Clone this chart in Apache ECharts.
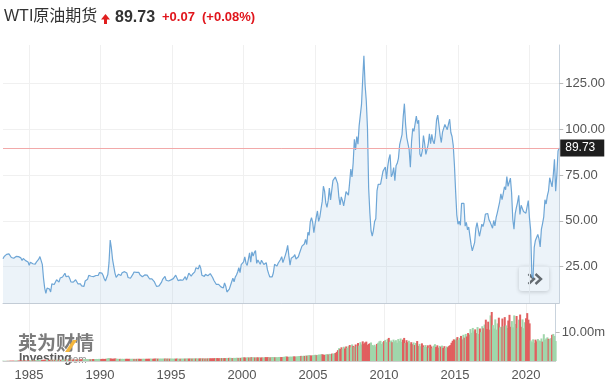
<!DOCTYPE html>
<html><head><meta charset="utf-8">
<script src="https://cdn.jsdelivr.net/npm/echarts@6/dist/echarts.min.js"></script>
<style>html,body{margin:0;padding:0;background:#fff}#c{width:608px;height:385px}</style>
</head><body><div id="c"></div>
<script>
// Monthly closes, first month = March 1983
const START_YEAR = 1983, START_MONTH = 3;
const prices1980s = [
  29.3, 30.6, 30.9, 31.7, 31.6, 32.0, 31.2, 30.0, 29.8, 29.6,
  29.8, 30.6, 30.8, 30.5, 30.3, 29.8, 28.4, 29.5, 29.4, 28.3, 28.6, 27.6,
  25.7, 27.4, 28.3, 26.6, 27.3, 26.4, 27.5, 27.9, 29.1, 30.5, 30.8, 26.3,
  18.8, 13.3, 10.4, 13.3, 14.3, 12.8, 11.2, 15.6, 14.9, 15.3, 15.0, 17.9,
  18.7, 16.6, 18.8, 18.7, 19.4, 20.3, 21.4, 19.5, 19.6, 19.9, 18.6, 16.7,
  17.0, 16.6, 16.4, 17.9, 17.4, 15.6, 16.1, 15.6, 14.5, 13.6, 14.3, 17.2,
  18.0, 18.1, 20.3, 20.8, 19.8, 20.3, 19.6, 19.2, 20.2, 20.2, 20.3, 21.8
];
const prices1990s = [
  22.7, 21.5, 20.3, 18.4, 17.2, 17.1, 20.7, 27.2, 39.5, 35.2, 28.8, 28.4,
  21.5, 19.2, 19.6, 20.9, 21.2, 20.2, 21.7, 22.1, 22.3, 23.2, 21.5, 19.1,
  18.9, 18.7, 19.1, 20.8, 22.1, 21.6, 21.9, 21.1, 21.9, 20.6, 19.9, 19.5,
  20.3, 20.5, 20.6, 20.4, 19.9, 18.4, 17.6, 18.4, 18.6, 16.9, 15.4, 14.2,
  15.2, 14.5, 14.7, 16.4, 18.1, 19.1, 19.7, 17.6, 18.4, 17.2, 18.1, 17.8,
  18.4, 18.5, 19.2, 20.4, 18.9, 17.4, 17.6, 17.8, 17.5, 17.6, 18.2, 19.6,
  17.7, 19.5, 21.5, 21.2, 19.8, 20.9, 20.4, 22.2, 24.4, 23.4, 23.8, 25.9,
  24.2, 20.3, 20.4, 19.7, 20.8, 19.8, 20.1, 19.6, 21.2, 21.0, 19.1, 17.6,
  17.2, 15.4, 15.6, 15.4, 15.2, 14.0, 14.2, 13.4, 16.1, 14.4, 11.2, 12.1,
  12.8, 12.3, 16.8, 18.7, 16.8, 19.3, 20.5, 22.1, 24.5, 21.8, 26.1, 25.6
];
const prices2000s = [
  27.6, 30.4, 26.9, 25.7, 29.0, 32.5, 27.4, 33.1, 30.8, 32.7, 33.8, 26.8,
  28.7, 27.4, 26.3, 28.5, 28.4, 26.2, 26.4, 27.2, 23.4, 21.2, 19.4, 19.8,
  19.5, 21.7, 26.3, 27.3, 25.3, 26.9, 27.0, 28.9, 30.5, 27.2, 26.9, 31.2,
  33.5, 36.6, 31.0, 25.8, 29.6, 30.2, 30.5, 31.6, 29.2, 29.1, 30.4, 32.5,
  33.1, 36.2, 35.8, 37.4, 39.9, 37.1, 43.8, 42.1, 49.6, 51.8, 49.1, 43.5,
  48.2, 52.0, 55.4, 49.7, 52.0, 56.5, 60.6, 68.9, 66.2, 59.8, 57.3, 61.0,
  67.9, 61.4, 66.6, 71.9, 71.3, 73.9, 74.4, 70.3, 62.9, 58.7, 63.1, 61.1,
  58.1, 61.8, 65.9, 65.7, 64.0, 70.7, 78.2, 74.0, 81.7, 94.5, 88.7, 96.0,
  91.8, 101.8, 101.6, 113.5, 127.4, 140.0, 124.1, 115.5, 100.6, 67.8, 54.4, 44.6,
  41.7, 44.8, 49.7, 51.1, 66.3, 69.9, 69.5, 70.0, 70.6, 77.0, 77.3, 79.4
];
const prices2010s = [
  72.9, 79.7, 83.8, 86.2, 74.0, 75.6, 79.0, 71.9, 80.0, 81.4, 84.1, 91.4,
  92.2, 97.0, 106.7, 113.9, 102.7, 95.4, 95.7, 88.8, 79.2, 93.2, 100.4, 98.8,
  98.5, 107.1, 103.0, 104.9, 86.5, 85.0, 88.1, 96.5, 92.2, 86.2, 88.9, 91.8,
  97.5, 92.1, 97.2, 93.5, 92.0, 96.6, 105.0, 107.7, 102.3, 96.4, 92.7, 98.4,
  97.5, 102.6, 101.6, 99.7, 102.7, 105.4, 98.2, 96.0, 91.2, 80.5, 66.2, 53.3,
  48.2, 49.8, 47.6, 59.6, 60.3, 59.5, 47.1, 49.2, 45.1, 46.6, 41.7, 37.0,
  33.6, 33.8, 38.3, 45.9, 49.1, 48.3, 41.6, 44.7, 48.2, 46.9, 49.4, 53.7,
  52.8, 54.0, 50.6, 49.3, 48.3, 46.0, 50.2, 47.2, 51.7, 54.4, 57.4, 60.4,
  64.7, 61.6, 64.9, 68.6, 67.0, 74.2, 68.8, 69.8, 73.3, 65.3, 50.9, 45.4,
  53.8, 57.2, 60.1, 63.9, 53.5, 58.5, 58.6, 55.1, 54.1, 54.2, 55.2, 61.1
];
const prices2020s = [
  51.6, 44.8, 20.5, 18.8, 35.5, 39.3, 40.3, 42.6, 40.2, 35.8, 45.3, 48.5,
  52.2, 61.5, 59.2, 63.6, 66.3, 73.5, 74.0, 68.5, 75.0, 83.6, 66.2, 75.2,
  88.15, 89.73
];
// Monthly volume, millions of contracts
const volumes1980s = [
  0.05, 0.06, 0.07, 0.08, 0.08, 0.09, 0.1, 0.1, 0.11, 0.12,
  0.13, 0.14, 0.15, 0.16, 0.17, 0.16, 0.18, 0.19, 0.18, 0.2, 0.21, 0.2,
  0.22, 0.24, 0.25, 0.24, 0.26, 0.25, 0.27, 0.28, 0.27, 0.3, 0.32, 0.34,
  0.4, 0.45, 0.5, 0.42, 0.4, 0.38, 0.45, 0.48, 0.42, 0.44, 0.4, 0.42,
  0.44, 0.46, 0.42, 0.45, 0.47, 0.45, 0.5, 0.52, 0.48, 0.5, 0.52, 0.5,
  0.52, 0.54, 0.5, 0.56, 0.52, 0.55, 0.58, 0.54, 0.6, 0.62, 0.58, 0.64,
  0.62, 0.66, 0.64, 0.7, 0.62, 0.66, 0.68, 0.64, 0.7, 0.72, 0.68, 0.75
];
const volumes1990s = [
  0.72, 0.7, 0.76, 0.74, 0.72, 0.78, 0.82, 1.05, 1.0, 0.9, 0.8, 0.78,
  0.85, 0.9, 0.76, 0.78, 0.72, 0.76, 0.74, 0.78, 0.72, 0.77, 0.75, 0.78,
  0.74, 0.77, 0.72, 0.78, 0.74, 0.76, 0.72, 0.77, 0.75, 0.78, 0.74, 0.76,
  0.76, 0.8, 0.74, 0.78, 0.76, 0.8, 0.78, 0.82, 0.77, 0.8, 0.84, 0.86,
  0.84, 0.82, 0.8, 0.86, 0.82, 0.85, 0.83, 0.87, 0.82, 0.86, 0.84, 0.82,
  0.82, 0.85, 0.8, 0.86, 0.82, 0.84, 0.8, 0.83, 0.81, 0.84, 0.82, 0.85,
  0.84, 0.88, 0.9, 0.86, 0.84, 0.88, 0.86, 0.9, 0.92, 0.88, 0.86, 0.9,
  0.9, 0.92, 0.88, 0.9, 0.86, 0.9, 0.88, 0.92, 0.9, 0.94, 0.92, 0.96,
  0.95, 1.0, 0.98, 1.02, 0.96, 1.0, 0.98, 1.02, 1.05, 1.0, 1.04, 1.08,
  1.05, 1.1, 1.12, 1.08, 1.04, 1.1, 1.06, 1.1, 1.14, 1.08, 1.12, 1.1
];
const volumes2000s = [
  1.2, 1.25, 1.3, 1.18, 1.22, 1.3, 1.2, 1.28, 1.35, 1.25, 1.3, 1.22,
  1.25, 1.3, 1.22, 1.28, 1.2, 1.26, 1.22, 1.3, 1.38, 1.3, 1.34, 1.28,
  1.3, 1.36, 1.4, 1.32, 1.3, 1.35, 1.32, 1.38, 1.42, 1.36, 1.4, 1.45,
  1.5, 1.6, 1.55, 1.45, 1.5, 1.55, 1.5, 1.58, 1.62, 1.55, 1.6, 1.65,
  1.7, 1.75, 1.8, 1.72, 1.85, 1.78, 1.9, 1.85, 2.0, 2.05, 1.95, 1.9,
  2.0, 2.1, 2.2, 2.05, 2.15, 2.25, 2.2, 2.4, 2.35, 2.2, 2.15, 2.3,
  2.4, 2.3, 2.5, 2.45, 2.6, 2.5, 2.7, 2.8, 3.2, 3.8, 4.5, 4.2,
  4.8, 4.3, 5.0, 4.4, 5.1, 4.6, 5.2, 5.6, 4.8, 5.8, 5.3, 5.0,
  5.8, 5.2, 6.3, 5.4, 6.6, 5.8, 6.9, 6.0, 6.5, 6.8, 5.6, 6.0,
  6.2, 6.5, 5.6, 5.4, 5.7, 5.1, 6.0, 6.4, 6.9, 7.1, 6.0, 6.6
];
const volumes2010s = [
  7.0, 7.4, 6.6, 7.7, 8.1, 6.7, 7.2, 6.6, 7.5, 6.9, 7.3, 6.4,
  7.7, 7.0, 7.9, 6.7, 7.5, 8.1, 6.3, 7.3, 6.6, 7.1, 6.0, 6.6,
  5.9, 6.5, 5.6, 6.3, 7.0, 5.3, 6.0, 5.2, 6.2, 5.5, 5.0, 5.6,
  4.9, 5.5, 4.6, 5.7, 5.1, 4.5, 5.4, 5.9, 4.9, 5.5, 4.7, 5.3,
  5.0, 5.4, 4.6, 5.2, 4.5, 5.1, 4.8, 5.3, 5.6, 6.4, 7.1, 7.6,
  7.3, 7.9, 8.4, 7.4, 8.1, 8.8, 7.6, 9.2, 8.2, 9.5, 8.6, 9.8,
  9.3, 11.2, 9.9, 11.6, 10.4, 11.1, 9.8, 11.9, 9.5, 11.4, 10.1, 12.2,
  11.5, 12.8, 14.5, 11.2, 13.8, 11.0, 16.0, 17.2, 12.6, 11.4, 14.6, 11.0,
  13.2, 15.2, 11.8, 12.0, 14.9, 12.2, 15.4, 12.5, 11.6, 14.2, 16.2, 12.0,
  14.0, 11.8, 16.0, 13.0, 15.8, 11.6, 14.5, 16.3, 12.0, 14.6, 11.5, 13.6
];
const volumes2020s = [
  15.0, 16.8, 14.5, 13.2, 7.2, 6.6, 7.6, 6.4, 7.5, 6.9, 7.7, 7.2,
  7.1, 7.9, 6.8, 9.4, 7.4, 7.9, 8.3, 7.8, 7.6, 8.0, 9.2, 9.5,
  8.8, 7.0
];
const yearTicks = [1985, 1990, 1995, 2000, 2005, 2010, 2015, 2020];
const priceTicks = [25, 50, 75, 100, 125];
const volumeTicks = [10];
const titleText = 'WTI原油期货';
const lastPrice = 89.73;
const changeText = '+0.07';
const changePctText = '(+0.08%)';

const FONT = 'Arial, "Liberation Sans", "Noto Sans CJK SC", sans-serif';
const CJK = '"Noto Sans CJK SC", Arial, sans-serif';
const prices = [].concat(prices1980s, prices1990s, prices2000s, prices2010s, prices2020s);
const volumes = [].concat(volumes1980s, volumes1990s, volumes2000s, volumes2010s, volumes2020s);
const monthPos = i => START_YEAR + (START_MONTH - 1 + i) / 12;
const priceData = prices.map((p, i) => [monthPos(i), p]);
const UP = '#a0d6ab', DOWN = '#e15f5f';
const volData = volumes.map((v, i) => ({
  value: [monthPos(i), v],
  itemStyle: { color: (i === 0 || prices[i] >= prices[i - 1]) ? UP : DOWN }
}));
const xMin = monthPos(0), xMax = monthPos(prices.length - 1);

const chart = echarts.init(document.getElementById('c'), null, { renderer: 'canvas' });
const gridLineColor = '#f0f0f0';
chart.setOption({
  animation: false,
  grid: [
    { left: 3, right: 48, top: 45, height: 258 },
    { left: 3, right: 48, top: 304, height: 57 }
  ],
  xAxis: [
    { gridIndex: 0, type: 'value', min: xMin, max: xMax,
      axisLine: { show: true, lineStyle: { color: '#c3ccd6', width: 1 } },
      axisTick: { show: false, customValues: yearTicks },
      axisLabel: { show: false, customValues: yearTicks },
      splitLine: { show: true, lineStyle: { color: gridLineColor } } },
    { gridIndex: 1, type: 'value', min: xMin, max: xMax,
      axisLine: { show: true, lineStyle: { color: '#cfcfcf' } },
      axisTick: { show: false, customValues: yearTicks },
      axisLabel: { customValues: yearTicks, formatter: v => String(v), color: '#555', fontSize: 13, fontFamily: FONT, margin: 8 },
      splitLine: { show: true, lineStyle: { color: gridLineColor } } }
  ],
  yAxis: [
    { gridIndex: 0, type: 'value', position: 'right', min: 5.2, max: 145.9,
      axisLine: { show: true, lineStyle: { color: '#c9d3dd' } },
      axisTick: { show: true, length: 4, lineStyle: { color: '#bbb' }, customValues: priceTicks },
      axisLabel: { customValues: priceTicks, formatter: v => v.toFixed(2), color: '#555', fontSize: 13, fontFamily: FONT, margin: 6 },
      splitLine: { show: true, lineStyle: { color: gridLineColor } } },
    { gridIndex: 1, type: 'value', position: 'right', min: 0, max: 20,
      axisLine: { show: true, lineStyle: { color: '#c9d3dd' } },
      axisTick: { show: true, length: 4, lineStyle: { color: '#bbb' }, customValues: volumeTicks },
      axisLabel: { customValues: volumeTicks, formatter: v => v.toFixed(2) + 'm', color: '#555', fontSize: 13, fontFamily: FONT, margin: 6 },
      splitLine: { show: false } }
  ],
  series: [
    { type: 'line', xAxisIndex: 0, yAxisIndex: 0, data: priceData, symbol: 'none',
      lineStyle: { color: '#6ea6d6', width: 1.2 },
      areaStyle: { color: 'rgba(160,195,225,0.28)', origin: 'start' },
      markLine: { silent: true, symbol: 'none',
        lineStyle: { color: '#f2a9a9', width: 1, type: 'solid' },
        label: { show: true, position: 'end', distance: 1, formatter: lastPrice.toFixed(2),
          backgroundColor: '#1e1e1e', color: '#fff', fontSize: 12, fontFamily: FONT,
          padding: [3, 9, 2, 5], align: 'left' },
        data: [{ yAxis: lastPrice }] } },
    { type: 'bar', xAxisIndex: 1, yAxisIndex: 1, data: volData, barWidth: 2 }
  ],
  graphic: [
    { type: 'text', left: 4, top: 9, style: { text: titleText, font: '16px ' + FONT, fill: '#333' } },
    { type: 'polygon', shape: { points: [[105.5, 14], [101, 19.5], [104, 19.5], [104, 24], [107, 24], [107, 19.5], [110, 19.5]] }, style: { fill: '#e01e1e' } },
    { type: 'text', left: 115, top: 10, style: { text: lastPrice.toFixed(2), font: 'bold 16px ' + FONT, fill: '#333' } },
    { type: 'text', left: 162, top: 11, style: { text: changeText, font: 'bold 13px ' + FONT, fill: '#e0151c' } },
    { type: 'text', left: 202, top: 11, style: { text: changePctText, font: 'bold 13px ' + FONT, fill: '#e0151c' } },
    { type: 'group', z: 100, children: [
      { type: 'rect', shape: { x: 519, y: 266, width: 30, height: 25, r: 3 },
        style: { fill: '#fff', shadowBlur: 4, shadowColor: 'rgba(0,0,0,0.22)', shadowOffsetY: 1 } },
      { type: 'polyline', shape: { points: [[528.5, 274], [534, 279], [528.5, 284]] }, style: { stroke: '#555', lineWidth: 2.4, fill: null } },
      { type: 'polyline', shape: { points: [[535.5, 274], [541, 279], [535.5, 284]] }, style: { stroke: '#555', lineWidth: 2.4, fill: null } }
    ] },
    { type: 'group', z: 100, children: [
      { type: 'text', x: 18, y: 333, style: { text: '英为财情', font: 'bold 19px ' + CJK, fill: 'rgba(110,110,110,0.9)' } },
      { type: 'polygon', shape: { points: [[65, 352], [73, 340], [77, 340], [69, 352]] }, style: { fill: '#f4b63c' } },
      { type: 'text', x: 19, y: 353, style: { text: 'Investing', font: 'bold 12px ' + FONT, fill: 'rgba(80,80,80,0.95)' } },
      { type: 'text', x: 65, y: 355, style: { text: '.com', font: '10px ' + FONT, fill: 'rgba(140,140,140,0.95)' } }
    ] }
  ]
});
</script>
</body></html>
